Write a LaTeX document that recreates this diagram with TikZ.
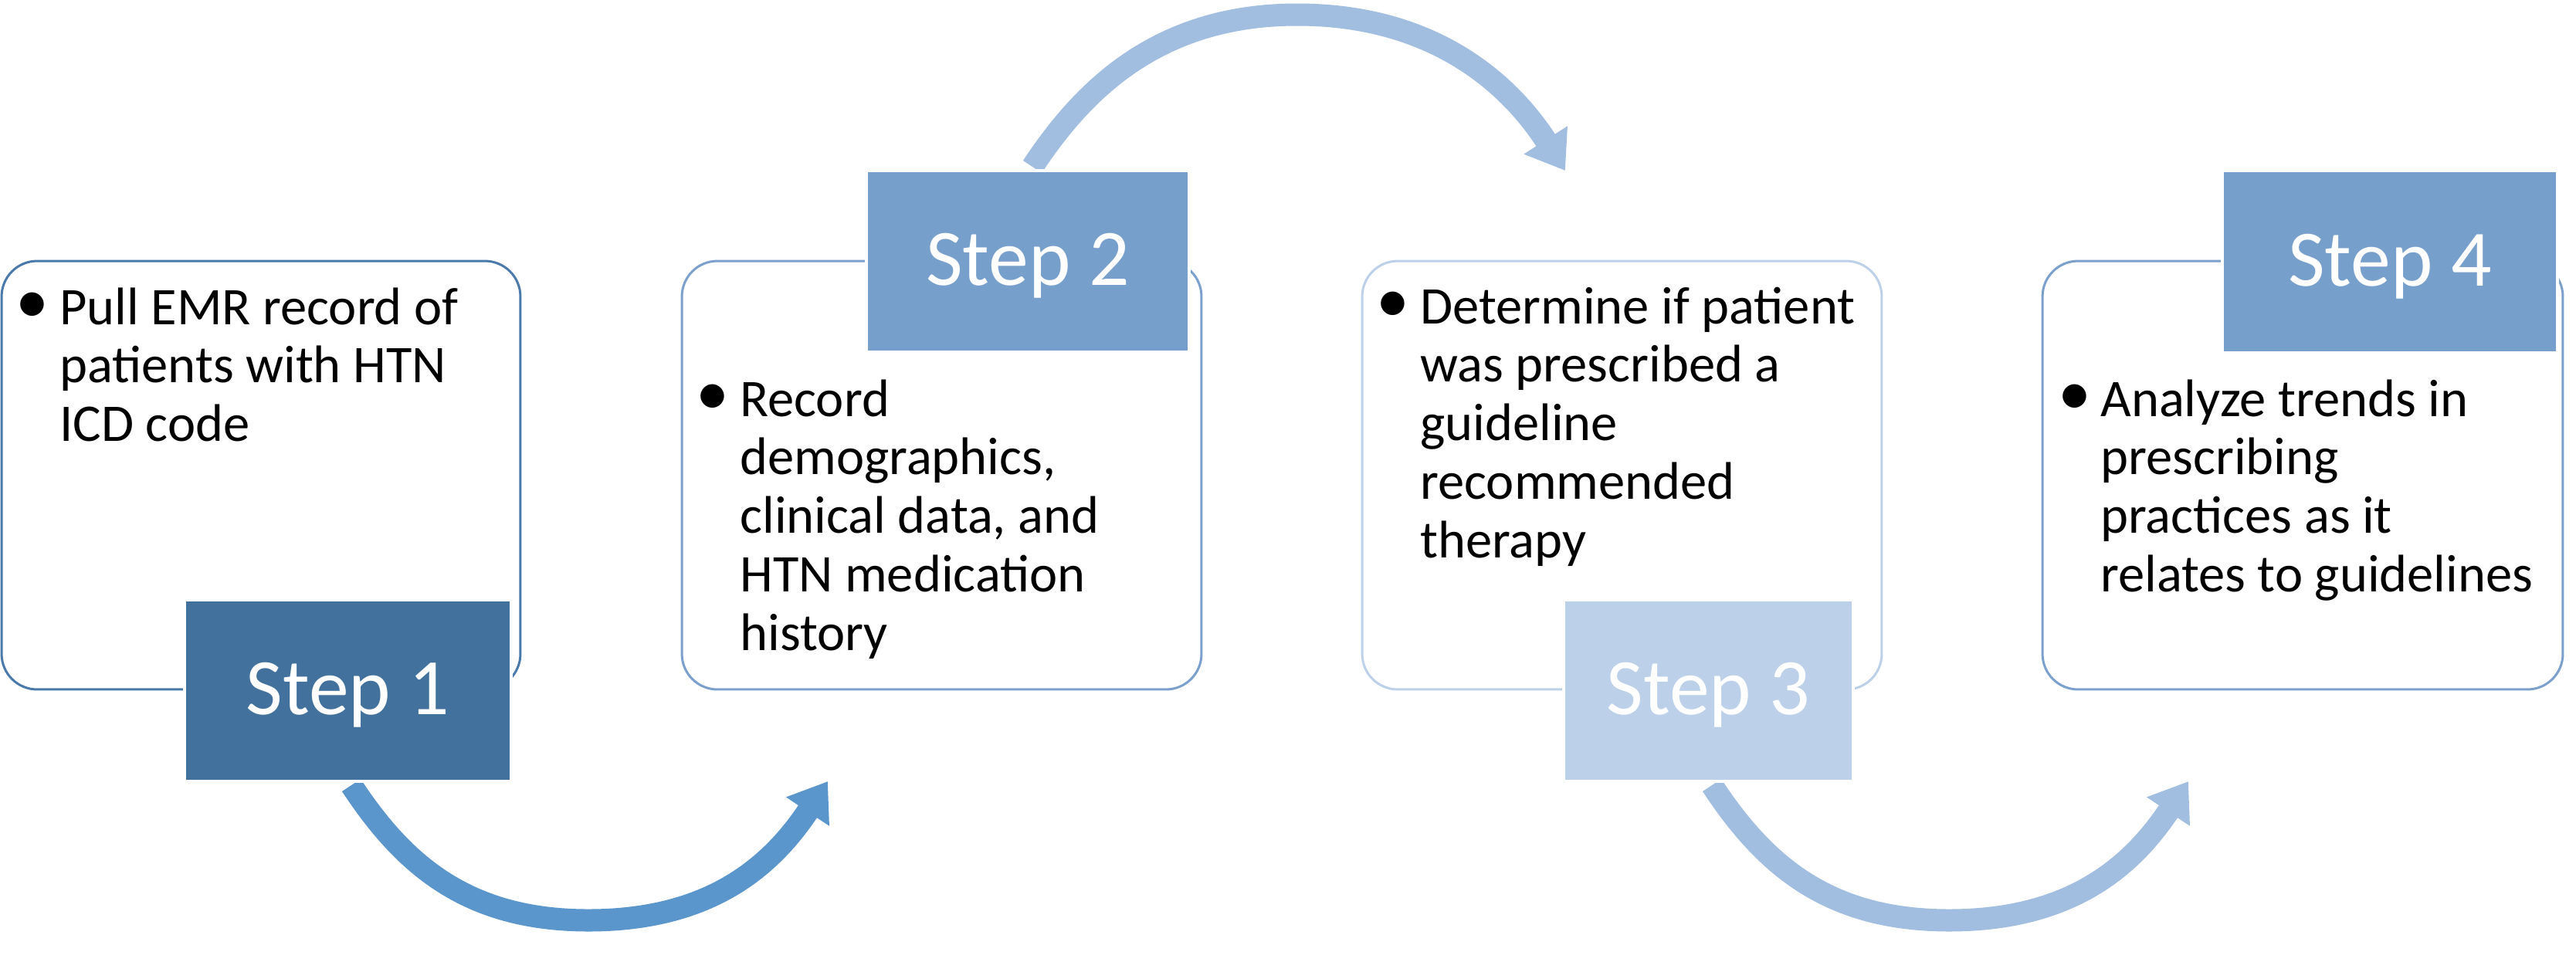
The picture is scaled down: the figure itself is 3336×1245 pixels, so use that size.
\documentclass[tikz,border=0pt]{standalone}
\usepackage{fontspec}
\setmainfont{Carlito}
\usetikzlibrary{arrows.meta}
\definecolor{stepdark}{HTML}{41719C}
\definecolor{stepmid}{HTML}{779FCC}
\definecolor{steplight}{HTML}{BCD1E9}
\definecolor{arrowmid}{HTML}{5A96CC}
\definecolor{arrowlight}{HTML}{A1BDE0}
\definecolor{borderdark}{HTML}{4A7AAB}
\definecolor{bordermid}{HTML}{7BA0CD}
\definecolor{borderlight}{HTML}{BCD1E9}
\tikzset{
  cardbox/.style={draw, line width=0.06cm, rounded corners=0.92cm, fill=white,
    minimum width=13.46cm, minimum height=11.1cm, inner sep=0pt},
  stepbox/.style={draw=white, line width=0.08cm, text=white,
    font=\fontsize{59}{70}\selectfont, text height=1.24cm, text depth=0pt,
    inner sep=0pt, minimum height=4.7cm},
  bodytext/.style={anchor=base west, inner sep=0pt, font=\fontsize{39}{43.25}\selectfont},
  bulletdot/.style={anchor=center, inner sep=0pt, font=\fontsize{49}{55}\selectfont},
  bigarrow/.style={line width=0.58cm, -{Triangle[length=0.94cm,width=1.28cm]}}
}
\begin{document}
\begin{tikzpicture}[x=0.02cm,y=-0.02cm]
\useasboundingbox (0,0) rectangle (3336,1245);

% content boxes
\node[cardbox, draw=borderdark, minimum width=13.44cm] (box1) at (338,615.5) {};
\node[cardbox, draw=bordermid] (box2) at (1219.5,615.5) {};
\node[cardbox, draw=borderlight] (box3) at (2100.5,615.5) {};
\node[cardbox, draw=bordermid, minimum width=13.48cm] (box4) at (2982,615.5) {};

% bullets and texts
\node[bulletdot] (b1) at (42,399) {\textbullet};
\node[bodytext] (t1) at (77,420) {\begin{tabular}[t]{@{}l@{}}Pull EMR record of\\patients with HTN\\ICD code\end{tabular}};
\node[bulletdot] (b2) at (923,518) {\textbullet};
\node[bodytext] (t2) at (958,539) {\begin{tabular}[t]{@{}l@{}}Record\\demographics,\\clinical data, and\\HTN medication\\history\end{tabular}};
\node[bulletdot] (b3) at (1804,398) {\textbullet};
\node[bodytext] (t3) at (1839,419) {\begin{tabular}[t]{@{}l@{}}Determine if patient\\was prescribed a\\guideline\\recommended\\therapy\end{tabular}};
\node[bulletdot] (b4) at (2687,518) {\textbullet};
\node[bodytext] (t4) at (2720,539) {\begin{tabular}[t]{@{}l@{}}Analyze trends in\\prescribing\\practices as it\\relates to guidelines\end{tabular}};

% arrows
\coordinate (a1s) at (455,1017);
\coordinate (a1c1) at (521,1117);
\coordinate (a1c2) at (602,1192);
\coordinate (a1b) at (762,1192);
\coordinate (a1c3) at (922,1192);
\coordinate (a1c4) at (1000,1120);
\coordinate (a1e) at (1072,1012);
\draw[bigarrow, arrowmid] (a1s) .. controls (a1c1) and (a1c2) .. (a1b) .. controls (a1c3) and (a1c4) .. (a1e);

\coordinate (a2s) at (1337,216);
\coordinate (a2c1) at (1403,116);
\coordinate (a2c2) at (1500,19);
\coordinate (a2b) at (1680,19);
\coordinate (a2c3) at (1860,19);
\coordinate (a2c4) at (1957,112);
\coordinate (a2e) at (2027,221);
\draw[bigarrow, arrowlight] (a2s) .. controls (a2c1) and (a2c2) .. (a2b) .. controls (a2c3) and (a2c4) .. (a2e);

\coordinate (a3s) at (2217,1017);
\coordinate (a3c1) at (2283,1117);
\coordinate (a3c2) at (2364,1192);
\coordinate (a3b) at (2524,1192);
\coordinate (a3c3) at (2684,1192);
\coordinate (a3c4) at (2762,1120);
\coordinate (a3e) at (2834,1012);
\draw[bigarrow, arrowlight] (a3s) .. controls (a3c1) and (a3c2) .. (a3b) .. controls (a3c3) and (a3c4) .. (a3e);

% step boxes
\node[stepbox, fill=stepdark, minimum width=8.46cm] (s1) at (450.5,894.5) {Step 1};
\node[stepbox, fill=stepmid, minimum width=8.36cm] (s2) at (1331,338.5) {Step 2};
\node[stepbox, fill=steplight, minimum width=7.5cm] (s3) at (2212.5,894.5) {Step 3};
\node[stepbox, fill=stepmid, minimum width=8.68cm, minimum height=4.72cm] (s4) at (3095,339) {Step 4};
\end{tikzpicture}
\end{document}
